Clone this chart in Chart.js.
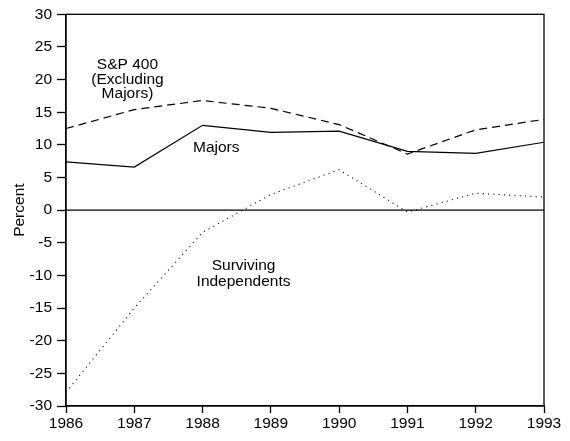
<!DOCTYPE html>
<html lang="en">
<head>
  <meta charset="UTF-8" />
  <title>Percent by year</title>
  <style>
    body { margin: 0; background: #fff; }
    #wrap { width: 570px; height: 441px; }
  </style>
</head>
<body>
  <div id="wrap"><canvas id="chart" width="570" height="441"></canvas></div>

  <script src="https://cdn.jsdelivr.net/npm/chart.js"></script>
  <script>
    const years = [1986, 1987, 1988, 1989, 1990, 1991, 1992, 1993];
    const majors = [7.4, 6.6, 13.0, 11.9, 12.1, 9.0, 8.7, 10.4];
    const sp400 = [12.5, 15.4, 16.8, 15.6, 13.1, 8.6, 12.3, 13.9];
    const independents = [-27.9, -15.0, -3.4, 2.4, 6.2, -0.3, 2.6, 2.0];
    const yTicks = [-30, -25, -20, -15, -10, -5, 0, 5, 10, 15, 20, 25, 30];

    // text labels placed in data units
    const notes = [
      { text: "S&P 400", x: 1986.9, y: 22.3 },
      { text: "(Excluding", x: 1986.9, y: 20.0 },
      { text: "Majors)", x: 1986.9, y: 17.8 },
      { text: "Majors", x: 1988.2, y: 9.6 },
      { text: "Surviving", x: 1988.6, y: -8.5 },
      { text: "Independents", x: 1988.6, y: -10.9 }
    ];

    const FONT = "'Liberation Sans', Arial, sans-serif";
    const SIZE = 15.5;

    const toPoints = arr => arr.map((v, i) => ({ x: years[i], y: v }));

    const frame = {
      id: "frame",
      afterDatasetsDraw(chart) {
        const { ctx, chartArea: a, scales } = chart;
        ctx.save();
        ctx.strokeStyle = "#000";
        ctx.lineWidth = 1.3;
        ctx.strokeRect(a.left, a.top, a.right - a.left, a.bottom - a.top);
        const y0 = scales.y.getPixelForValue(0);
        ctx.beginPath();
        ctx.moveTo(a.left, y0);
        ctx.lineTo(a.right, y0);
        ctx.stroke();

        ctx.fillStyle = "#000";
        ctx.font = SIZE + "px " + FONT;
        ctx.textAlign = "center";
        ctx.textBaseline = "middle";
        notes.forEach(n => {
          ctx.fillText(n.text, scales.x.getPixelForValue(n.x), scales.y.getPixelForValue(n.y));
        });
        ctx.restore();
      }
    };

    new Chart(document.getElementById("chart"), {
      type: "line",
      data: {
        datasets: [
          {
            label: "S&P 400 (Excluding Majors)",
            data: toPoints(sp400),
            borderColor: "#000",
            borderWidth: 1.2,
            borderDash: [8, 5],
            pointRadius: 0,
            tension: 0
          },
          {
            label: "Majors",
            data: toPoints(majors),
            borderColor: "#000",
            borderWidth: 1.2,
            pointRadius: 0,
            tension: 0
          },
          {
            label: "Surviving Independents",
            data: toPoints(independents),
            borderColor: "#000",
            borderWidth: 1.1,
            borderDash: [1.1, 4.2],
            pointRadius: 0,
            tension: 0
          }
        ]
      },
      options: {
        responsive: false,
        animation: false,
        layout: { padding: { top: 12, right: 26, left: 0, bottom: 0 } },
        plugins: {
          legend: { display: false },
          tooltip: { enabled: false }
        },
        scales: {
          x: {
            type: "linear",
            min: 1986,
            max: 1993,
            afterBuildTicks: s => { s.ticks = years.map(v => ({ value: v })); },
            afterFit: s => { s.height = 35; },
            grid: {
              drawOnChartArea: false,
              tickLength: 7,
              tickColor: "#000",
              tickWidth: 1.3
            },
            border: { display: true, color: "#000", width: 1.3 },
            ticks: {
              color: "#000",
              padding: 1,
              maxRotation: 0,
              font: { family: FONT, size: SIZE },
              callback: v => String(v)
            }
          },
          y: {
            min: -30,
            max: 30,
            afterBuildTicks: s => { s.ticks = yTicks.map(v => ({ value: v })); },
            afterFit: s => { s.width = 66; },
            grid: {
              drawOnChartArea: false,
              tickLength: 9,
              tickColor: "#000",
              tickWidth: 1.3
            },
            border: { display: true, color: "#000", width: 1.3 },
            ticks: {
              color: "#000",
              padding: 5,
              font: { family: FONT, size: SIZE }
            },
            title: {
              display: true,
              text: "Percent",
              color: "#000",
              padding: { top: 10, bottom: 0 },
              font: { family: FONT, size: SIZE }
            }
          }
        }
      },
      plugins: [frame]
    });
  </script>
</body>
</html>
